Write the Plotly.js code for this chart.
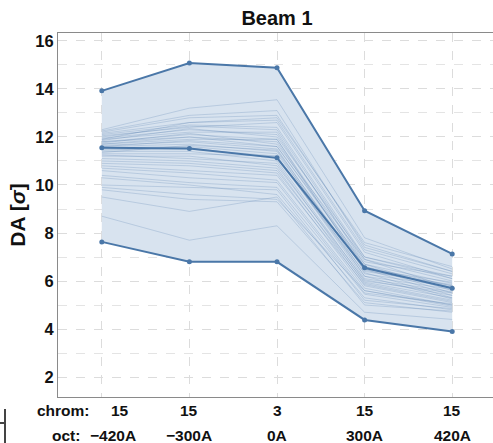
<!DOCTYPE html>
<html>
<head>
<meta charset="utf-8">
<script src="https://cdn.plot.ly/plotly-3.0.1.min.js"></script>
<style>
html,body{margin:0;padding:0;overflow:hidden;background:#fff;}
#chart{width:496px;height:443px;}
</style>
</head>
<body>
<div id="chart"></div>
<script>
// ---- data ----
const categories = [0, 1, 2, 3, 4];
const chromLabels = ["15", "15", "3", "15", "15"];
const octLabels = ["\u2212420A", "\u2212300A", "0A", "300A", "420A"];
const daMax  = [13.92, 15.08, 14.88, 8.93, 7.13];
const daMean = [11.55, 11.52, 11.13, 6.55, 5.70];
const daMin  = [7.63, 6.80, 6.80, 4.38, 3.90];
const seeds = [
  [12.30, 13.20, 13.55, 7.80, 6.50],
  [12.20, 12.80, 12.90, 7.50, 6.40],
  [12.15, 12.60, 12.70, 7.30, 6.30],
  [12.10, 12.50, 12.40, 7.00, 6.20],
  [12.05, 12.40, 12.60, 7.20, 6.10],
  [12.00, 12.45, 12.30, 6.90, 6.00],
  [11.95, 12.30, 12.10, 6.80, 6.20],
  [11.90, 12.20, 12.20, 6.70, 5.90],
  [11.85, 12.35, 12.00, 7.00, 6.10],
  [11.80, 12.10, 11.90, 6.60, 5.80],
  [11.80, 12.00, 11.80, 6.50, 5.95],
  [11.75, 12.15, 11.70, 6.90, 5.70],
  [11.70, 11.90, 11.90, 6.40, 5.85],
  [11.70, 12.00, 11.60, 6.70, 5.60],
  [11.65, 11.80, 11.50, 6.30, 5.75],
  [11.60, 11.85, 11.60, 6.60, 5.50],
  [11.60, 11.70, 11.40, 6.20, 5.65],
  [11.55, 11.60, 11.30, 6.50, 5.40],
  [11.50, 11.50, 11.20, 6.10, 5.55],
  [11.45, 11.55, 11.10, 6.35, 5.30],
  [11.40, 11.40, 11.00, 6.00, 5.50],
  [11.30, 11.30, 11.20, 6.20, 5.25],
  [11.25, 11.10, 10.90, 5.90, 5.20],
  [11.20, 11.20, 10.80, 6.05, 5.40],
  [11.10, 11.00, 10.70, 5.80, 5.10],
  [11.00, 10.90, 10.60, 5.95, 5.30],
  [10.90, 10.80, 10.50, 5.70, 5.00],
  [10.80, 10.60, 10.40, 5.85, 5.15],
  [10.70, 10.50, 10.20, 5.60, 4.95],
  [10.60, 10.30, 10.10, 5.50, 5.05],
  [10.40, 10.10, 9.90, 5.45, 4.90],
  [10.30, 10.00, 9.60, 5.30, 4.80],
  [10.00, 9.90, 9.80, 5.20, 4.85],
  [9.80, 9.40, 9.30, 5.10, 4.70],
  [9.50, 8.90, 9.50, 5.00, 4.75],
  [8.70, 7.70, 8.30, 4.70, 4.40],
  [9.90, 9.60, 9.40, 5.60, 5.00],
  [11.90, 12.60, 12.80, 7.60, 6.60],
  [12.25, 12.90, 13.10, 7.40, 6.40],
  [11.35, 11.65, 11.45, 6.45, 5.80]
];
const yTickVals = [2, 4, 6, 8, 10, 12, 14, 16];

// ---- styling / geometry ----
const W = 496, H = 443;
const M = {l: 58, r: 0, t: 33, b: 46};
const plotW = W - M.l - M.r, plotH = H - M.t - M.b;
const px2paperX = px => (px - M.l) / plotW;
const px2paperY = py => (H - M.b - py) / plotH;
const boldBlue = "rgb(74,119,168)";
const fillBlue = "rgb(216,227,239)";
const thinBlue = "rgba(80,120,170,0.3)";
const FONT = "Liberation Sans, Arial, sans-serif";

const traces = [];
// band fill
traces.push({x: categories, y: daMin, mode: "lines", line: {width: 0, color: fillBlue}, hoverinfo: "skip", showlegend: false});
traces.push({x: categories, y: daMax, mode: "lines", line: {width: 0, color: fillBlue}, fill: "tonexty", fillcolor: fillBlue, hoverinfo: "skip", showlegend: false});
// individual seeds
seeds.forEach(s => traces.push({x: categories, y: s, mode: "lines", line: {width: 0.8, color: thinBlue}, showlegend: false}));
// envelope + mean
[daMax, daMean, daMin].forEach(arr => traces.push({
  x: categories, y: arr, mode: "lines+markers",
  line: {width: 2, color: boldBlue}, marker: {size: 5, color: boldBlue}, showlegend: false
}));

// x labels (two rows) as annotations tied to the x axis
const annotations = [];
const labelFont = {family: FONT, size: 15.5, color: "#111"};
categories.forEach((c, i) => {
  annotations.push({xref: "x", yref: "paper", x: c, y: px2paperY(410), text: "<b>" + chromLabels[i] + "</b>",
    showarrow: false, xanchor: "center", yanchor: "middle", xshift: i === 0 ? 18 : 0, font: labelFont});
  annotations.push({xref: "x", yref: "paper", x: c, y: px2paperY(435), text: "<b>" + octLabels[i] + "</b>",
    showarrow: false, xanchor: "center", yanchor: "middle", xshift: i === 0 ? 11 : 0, font: labelFont});
});
annotations.push({xref: "paper", yref: "paper", x: px2paperX(35), y: px2paperY(410), text: "<b>chrom:</b>",
  showarrow: false, xanchor: "left", yanchor: "middle", font: labelFont});
annotations.push({xref: "paper", yref: "paper", x: px2paperX(50), y: px2paperY(435), text: "<b>oct:</b>",
  showarrow: false, xanchor: "left", yanchor: "middle", font: labelFont});

const layout = {
  width: W, height: H,
  margin: M,
  paper_bgcolor: "#fff", plot_bgcolor: "#fff",
  font: {family: FONT, color: "#111"},
  title: {text: "<b>Beam 1</b>", font: {family: FONT, size: 20, color: "#111"},
    x: px2paperX(277), xref: "paper", xanchor: "center", y: 1 - 18 / H, yref: "container", yanchor: "middle"},
  xaxis: {
    range: [-0.5, 4.5], tickvals: categories, showticklabels: false, ticks: "",
    showgrid: true, gridcolor: "#dcdcdc", griddash: "dash", gridwidth: 1,
    showline: true, linecolor: "#8a8a8a", linewidth: 1, mirror: true, zeroline: false, fixedrange: true
  },
  yaxis: {
    range: [1.17, 16.33], tickvals: yTickVals, ticks: "",
    tickfont: {family: FONT, size: 16.5, color: "#111", weight: "bold"},
    showgrid: true, gridcolor: "#dcdcdc", griddash: "dash", gridwidth: 1,
    minor: {dtick: 1, tick0: 0, showgrid: true, gridcolor: "#e4e4e4", griddash: "dash", gridwidth: 1, ticks: ""},
    showline: true, linecolor: "#8a8a8a", linewidth: 1, mirror: true, zeroline: false,
    title: {text: "<b>DA [<i>σ</i>]</b>", font: {family: FONT, size: 21, color: "#111"}, standoff: 3},
    fixedrange: true
  },
  annotations: annotations,
  shapes: [
    {type: "line", xref: "paper", yref: "paper", x0: px2paperX(5), x1: px2paperX(5), y0: px2paperY(409), y1: px2paperY(443), line: {color: "#444", width: 2}},
    {type: "line", xref: "paper", yref: "paper", x0: px2paperX(0), x1: px2paperX(5), y0: px2paperY(423), y1: px2paperY(423), line: {color: "#444", width: 2}}
  ],
  showlegend: false
};

Plotly.newPlot("chart", traces, layout, {displayModeBar: false, staticPlot: true});
</script>
</body>
</html>
